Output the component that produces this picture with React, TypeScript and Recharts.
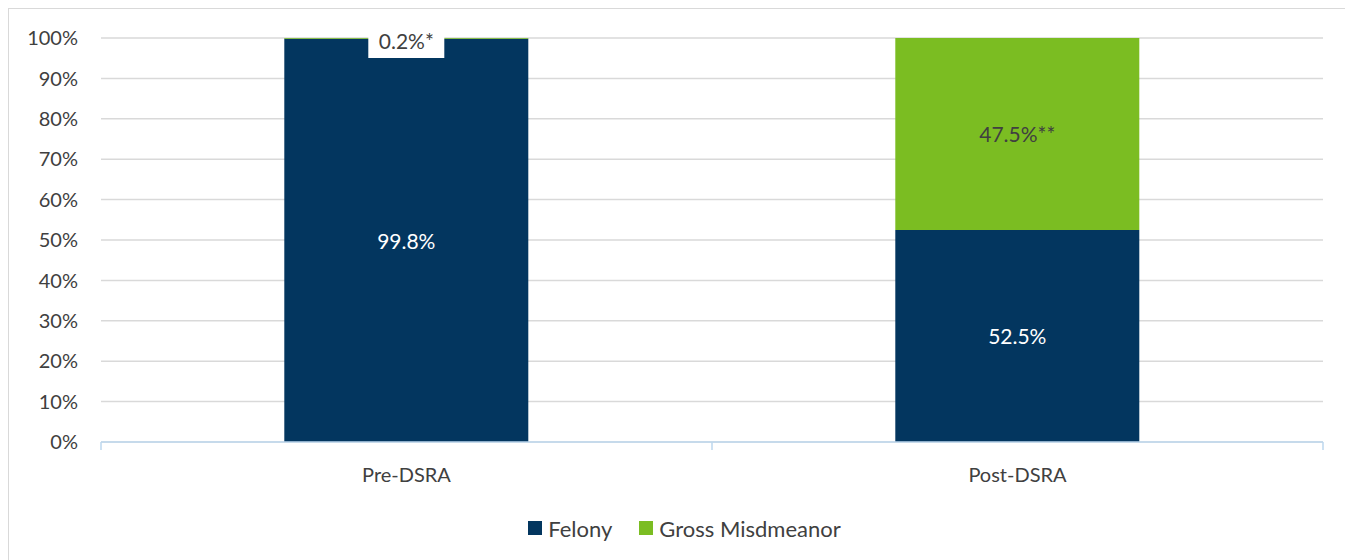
import React from "react";
import {
  BarChart,
  Bar,
  XAxis,
  YAxis,
  CartesianGrid,
  Legend,
  LabelList,
} from "recharts";

const categories = ["Pre-DSRA", "Post-DSRA"];
const felonyValues = [99.8, 52.5];
const grossMisdemeanorValues = [0.2, 47.5];
const felonyLabels = ["99.8%", "52.5%"];
const grossLabels = ["0.2%*", "47.5%**"];
const yTicks = [0, 10, 20, 30, 40, 50, 60, 70, 80, 90, 100];
const seriesNames = ["Felony", "Gross Misdmeanor"];

const NAVY = "#03365f";
const GREEN = "#7bbd22";
const TEXT = "#404040";
const FONT = "Lato, 'Open Sans', sans-serif";

const data = categories.map((c, i) => ({
  name: c,
  felony: felonyValues[i],
  gross: grossMisdemeanorValues[i],
}));

const XTick = (props: any) => {
  const { x, y, payload, index, visibleTicksCount } = props;
  const off = payload && typeof payload.offset === "number" ? payload.offset : 0;
  const isLast = index === (visibleTicksCount ?? 2) - 1;
  return (
    <g>
      {off > 0 && (
        <line x1={x - off} x2={x - off} y1={y} y2={y + 8} stroke="#bdd7ee" strokeWidth={1.5} />
      )}
      {off > 0 && isLast && (
        <line x1={x + off} x2={x + off} y1={y} y2={y + 8} stroke="#bdd7ee" strokeWidth={1.5} />
      )}
      <text
        x={x}
        y={y + 32}
        textAnchor="middle"
        dominantBaseline="central"
        fill={TEXT}
        fontSize={20}
        fontFamily={FONT}
      >
        {payload.value}
      </text>
    </g>
  );
};

const GrossLabel = (props: any) => {
  const { x, y, width, height, index } = props;
  const cx = x + width / 2;
  const label = grossLabels[index];
  if (height < 20) {
    return (
      <g>
        <rect x={cx - 38} y={y - 4} width={76} height={24} fill="#ffffff" />
        <text
          x={cx}
          y={y + 2}
          textAnchor="middle"
          dominantBaseline="central"
          fill={TEXT}
          fontSize={21}
          fontFamily={FONT}
        >
          {label}
        </text>
      </g>
    );
  }
  return (
    <text
      x={cx}
      y={y + height / 2}
      textAnchor="middle"
      dominantBaseline="central"
      fill={TEXT}
      fontSize={21}
      fontFamily={FONT}
    >
      {label}
    </text>
  );
};

const FelonyLabel = (props: any) => {
  const { x, y, width, height, index } = props;
  return (
    <text
      x={x + width / 2}
      y={y + height / 2}
      textAnchor="middle"
      dominantBaseline="central"
      fill="#ffffff"
      fontSize={21}
      fontFamily={FONT}
    >
      {felonyLabels[index]}
    </text>
  );
};

const LegendContent = () => {
  const colors = [NAVY, GREEN];
  return (
    <div
      style={{
        height: 30,
        margin: 0,
        paddingLeft: 37,
        display: "flex",
        justifyContent: "center",
        alignItems: "center",
        fontFamily: FONT,
        fontSize: 22,
        color: TEXT,
      }}
    >
      {seriesNames.map((n, i) => (
        <div key={n} style={{ display: "flex", alignItems: "center", marginRight: i === 0 ? 27 : 0 }}>
          <div style={{ width: 14, height: 14, background: colors[i], marginRight: 6 }} />
          <span>{n}</span>
        </div>
      ))}
    </div>
  );
};

export default function App() {
  return (
    <div
      style={{
        width: 1338,
        height: 560,
        border: "1px solid #d9d9d9",
        boxSizing: "border-box",
        background: "#ffffff",
      }}
    >
      <BarChart
        width={1336}
        height={558}
        data={data}
        margin={{ top: 29, right: 22, left: 0, bottom: 24 }}
        barCategoryGap="30%"
      >
        <CartesianGrid vertical={false} stroke="#d9d9d9" strokeWidth={1.5} />
        <XAxis
          dataKey="name"
          height={71}
          tickSize={0}
          tickMargin={0}
          tickLine={false}
          axisLine={{ stroke: "#bdd7ee", strokeWidth: 1.5 }}
          tick={<XTick />}
          interval={0}
        />
        <YAxis
          width={92}
          domain={[0, 100]}
          ticks={yTicks}
          tickFormatter={(v: number) => `${v}%`}
          axisLine={false}
          tickLine={false}
          tickSize={0}
          tickMargin={23}
          tick={{ fill: TEXT, fontSize: 20, fontFamily: FONT }}
        />
        <Legend verticalAlign="bottom" content={<LegendContent />} />
        <Bar dataKey="felony" name={seriesNames[0]} stackId="a" fill={NAVY} isAnimationActive={false}>
          <LabelList dataKey="felony" content={<FelonyLabel />} />
        </Bar>
        <Bar dataKey="gross" name={seriesNames[1]} stackId="a" fill={GREEN} isAnimationActive={false}>
          <LabelList dataKey="gross" content={<GrossLabel />} />
        </Bar>
      </BarChart>
    </div>
  );
}
